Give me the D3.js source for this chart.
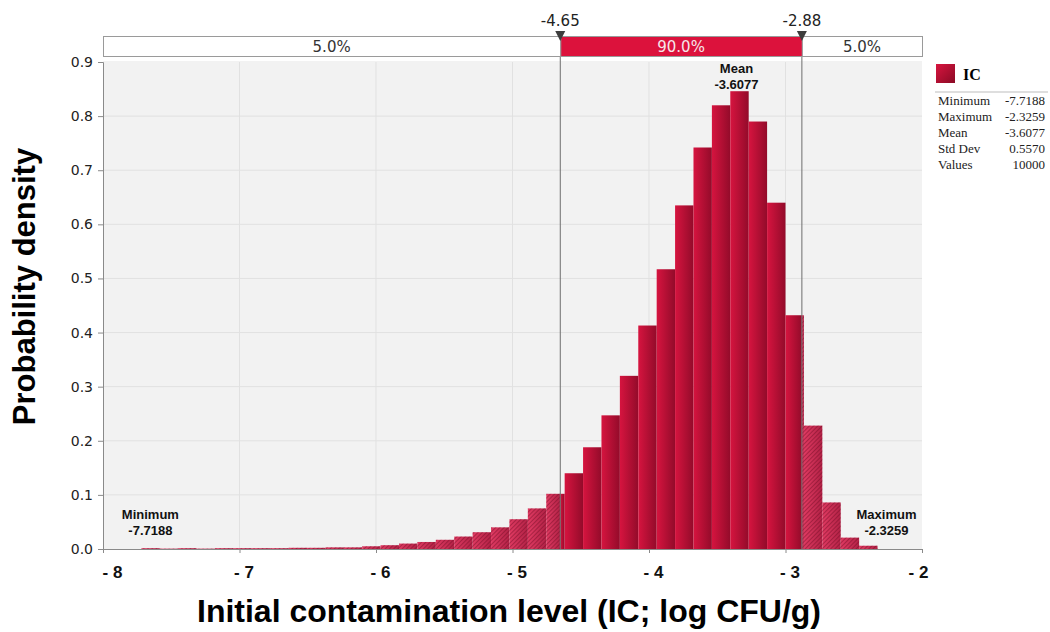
<!DOCTYPE html>
<html>
<head>
<meta charset="utf-8">
<script src="https://cdn.jsdelivr.net/npm/d3@7"></script>
<style>
  body { margin: 0; background: #fff; }
  svg { display: block; }
</style>
</head>
<body>
<svg id="chart" width="1050" height="632"></svg>
<script>
// histogram of IC (40 bins from min to max), density per bin
const icMin = -7.7188;
const icMax = -2.3259;
const icMean = -3.6077;
const density = [
  0.0015, 0.0007, 0.0015, 0.0007, 0.0015, 0.0015, 0.0015, 0.0015, 0.0022, 0.0022,
  0.003, 0.003, 0.005, 0.007, 0.010, 0.013, 0.017, 0.023, 0.031, 0.040,
  0.055, 0.075, 0.102, 0.140, 0.188, 0.247, 0.320, 0.413, 0.517, 0.635,
  0.742, 0.820, 0.846, 0.790, 0.640, 0.432, 0.228, 0.086, 0.021, 0.006
];
const cutoffs = [-4.65, -2.88];
const cutLabels = ["-4.65", "-2.88"];
const pctLabels = ["5.0%", "90.0%", "5.0%"];
const xTicks = [-8, -7, -6, -5, -4, -3, -2];
const yTicks = [0, 0.1, 0.2, 0.3, 0.4, 0.5, 0.6, 0.7, 0.8, 0.9];
const statNames = ["Minimum", "Maximum", "Mean", "Std Dev", "Values"];
const statValues = ["-7.7188", "-2.3259", "-3.6077", "0.5570", "10000"];

const svg = d3.select("#chart");

const x = d3.scaleLinear().domain([-8, -2]).range([103, 922]);
const y = d3.scaleLinear().domain([0, 0.9]).range([549, 62]);

//defs: gradients + hatch
const defs = svg.append("defs");
const gSolid = defs.append("linearGradient").attr("id", "solid")
    .attr("x1", "0%").attr("x2", "100%").attr("y1", "0%").attr("y2", "0%");
gSolid.append("stop").attr("offset", "0%").attr("stop-color", "#d6143f");
gSolid.append("stop").attr("offset", "100%").attr("stop-color", "#930b2a");

const gHatch = defs.append("linearGradient").attr("id", "hatchbg")
    .attr("x1", "0%").attr("x2", "100%").attr("y1", "0%").attr("y2", "0%");
gHatch.append("stop").attr("offset", "0%").attr("stop-color", "#e03a62");
gHatch.append("stop").attr("offset", "100%").attr("stop-color", "#b22246");

const pat = defs.append("pattern").attr("id", "hatch")
    .attr("patternUnits", "userSpaceOnUse")
    .attr("width", 3).attr("height", 3)
    .attr("patternTransform", "rotate(45)");
pat.append("line")
    .attr("x1", 0).attr("y1", 0).attr("x2", 0).attr("y2", 3)
    .attr("stroke", "#6e0a22").attr("stroke-width", 1.2).attr("stroke-opacity", 0.75);

const gLeg = defs.append("linearGradient").attr("id", "legsq")
    .attr("x1", "0%").attr("x2", "100%").attr("y1", "0%").attr("y2", "100%");
gLeg.append("stop").attr("offset", "0%").attr("stop-color", "#d8153f");
gLeg.append("stop").attr("offset", "100%").attr("stop-color", "#8a0a25");

// plot background + grid
svg.append("rect")
    .attr("x", x(-8)).attr("y", y(0.9) - 1)
    .attr("width", x(-2) - x(-8)).attr("height", y(0) - y(0.9) + 1)
    .attr("fill", "#f2f2f2");

svg.append("g").selectAll("line")
    .data(xTicks.slice(1, -1))
    .join("line")
    .attr("x1", d => x(d)).attr("x2", d => x(d))
    .attr("y1", y(0.9)).attr("y2", y(0))
    .attr("stroke", "#e1e1e1");

svg.append("g").selectAll("line")
    .data(yTicks.slice(1, -1))
    .join("line")
    .attr("x1", x(-8)).attr("x2", x(-2))
    .attr("y1", d => y(d)).attr("y2", d => y(d))
    .attr("stroke", "#e1e1e1");

// bars, split at the cutoffs
const binW = (icMax - icMin) / density.length;
const parts = [];
density.forEach(function(v, i) {
  const x0 = icMin + i * binW, x1 = x0 + binW;
  const edges = [x0].concat(cutoffs.filter(c => c > x0 && c < x1)).concat([x1]);
  for (let j = 0; j < edges.length - 1; j++) {
    const a = edges[j], b = edges[j + 1];
    const inside = a >= cutoffs[0] - 1e-9 && b <= cutoffs[1] + 1e-9;
    parts.push({x0: a, x1: b, v: v, inside: inside});
  }
});

const bars = svg.append("g").attr("class", "bars");
bars.selectAll("rect.bar")
    .data(parts)
    .join("rect")
    .attr("class", "bar")
    .attr("x", d => x(d.x0))
    .attr("width", d => x(d.x1) - x(d.x0))
    .attr("y", d => y(d.v))
    .attr("height", d => y(0) - y(d.v))
    .attr("fill", d => d.inside ? "url(#solid)" : "url(#hatchbg)");
bars.selectAll("rect.hatch")
    .data(parts.filter(d => !d.inside))
    .join("rect")
    .attr("class", "hatch")
    .attr("x", d => x(d.x0))
    .attr("width", d => x(d.x1) - x(d.x0))
    .attr("y", d => y(d.v))
    .attr("height", d => y(0) - y(d.v))
    .attr("fill", "url(#hatch)");

// cutoff lines
svg.append("g").selectAll("line")
    .data(cutoffs)
    .join("line")
    .attr("x1", d => x(d)).attr("x2", d => x(d))
    .attr("y1", 57).attr("y2", y(0))
    .attr("stroke", "#6e6e6e").attr("stroke-width", 1);

// axes
const yAxis = svg.append("g")
    .attr("transform", `translate(${x(-8)},0)`)
    .call(d3.axisLeft(y).tickValues(yTicks).tickFormat(d3.format(".1f")).tickSize(5).tickPadding(5));
yAxis.select(".domain").attr("stroke", "#8a8a8a");
yAxis.selectAll(".tick line").attr("stroke", "#8a8a8a");
yAxis.selectAll("text")
    .style("font-family", "'DejaVu Sans', Verdana, sans-serif")
    .style("font-size", "14px")
    .attr("fill", "#222");

const xAxis = svg.append("g")
    .attr("transform", `translate(0,${y(0)})`)
    .call(d3.axisBottom(x).tickValues(xTicks).tickFormat(d => "- " + Math.abs(d)).tickSize(4));
xAxis.select(".domain").attr("stroke", "#8a8a8a");
xAxis.selectAll(".tick line").attr("stroke", "#8a8a8a");
xAxis.selectAll("text")
    .attr("y", 29).attr("dy", 0)
    .attr("dx", d => d == -8 ? 9 : (d == -2 ? -4 : 4))
    .style("font-family", "'Liberation Sans', Arial, sans-serif")
    .style("font-size", "17px")
    .style("font-weight", "bold")
    .attr("fill", "#111");

// axis titles
svg.append("text")
    .attr("transform", `translate(35,${(y(0) + y(0.9)) / 2 - 19}) rotate(-90)`)
    .attr("text-anchor", "middle")
    .style("font-family", "'Liberation Sans', Arial, sans-serif")
    .style("font-size", "31px")
    .style("font-weight", "bold")
    .attr("fill", "#000")
    .text("Probability density");

svg.append("text")
    .attr("x", 509).attr("y", 622)
    .attr("text-anchor", "middle")
    .style("font-family", "'Liberation Sans', Arial, sans-serif")
    .style("font-size", "32px")
    .style("font-weight", "bold")
    .attr("fill", "#000")
    .text("Initial contamination level (IC; log CFU/g)");

// top percentage bar
const segs = [
  {a: -8, b: cutoffs[0], label: pctLabels[0], mid: false},
  {a: cutoffs[0], b: cutoffs[1], label: pctLabels[1], mid: true},
  {a: cutoffs[1], b: -2, label: pctLabels[2], mid: false}
];
const pctBar = svg.append("g");
pctBar.selectAll("rect")
    .data(segs)
    .join("rect")
    .attr("x", d => x(d.a) + 0.5)
    .attr("y", 36.5)
    .attr("width", d => x(d.b) - x(d.a))
    .attr("height", 20)
    .attr("fill", d => d.mid ? "#dc123c" : "#fff")
    .attr("stroke", "#9a9a9a");
pctBar.selectAll("text")
    .data(segs)
    .join("text")
    .attr("x", d => (x(d.a) + x(d.b)) / 2)
    .attr("y", 52)
    .attr("text-anchor", "middle")
    .style("font-family", "'DejaVu Sans', Verdana, sans-serif")
    .style("font-size", "15px")
    .attr("fill", d => d.mid ? "#f6e6ea" : "#333")
    .text(d => d.label);

// cutoff markers
const mk = svg.append("g").selectAll("g")
    .data(cutoffs)
    .join("g")
    .attr("transform", d => `translate(${x(d)},0)`);
mk.append("path")
    .attr("d", "M-5,31L5,31L0,41Z")
    .attr("fill", "#3d3d3d");
mk.append("text")
    .attr("y", 26)
    .attr("text-anchor", "middle")
    .style("font-family", "'DejaVu Sans', Verdana, sans-serif")
    .style("font-size", "15px")
    .attr("fill", "#222")
    .text((d, i) => cutLabels[i]);

// min / mean / max labels
const peak = d3.maxIndex(density);
const notes = [
  {name: "Minimum", val: icMin, cx: x(icMin) + 9, y0: 519},
  {name: "Mean", val: icMean, cx: x(icMin + (peak + 0.5) * binW) - 3, y0: 73},
  {name: "Maximum", val: icMax, cx: x(icMax) + 9, y0: 519}
];
const nt = svg.append("g").selectAll("text")
    .data(notes)
    .join("text")
    .attr("text-anchor", "middle")
    .style("font-family", "'Liberation Sans', Arial, sans-serif")
    .style("font-size", "13px")
    .style("font-weight", "bold")
    .attr("fill", "#111");
nt.append("tspan").attr("x", d => d.cx).attr("y", d => d.y0).text(d => d.name);
nt.append("tspan").attr("x", d => d.cx).attr("y", d => d.y0 + 16).text(d => d.val.toFixed(4));

// legend
const leg = svg.append("g");
leg.append("rect")
    .attr("x", 936).attr("y", 64).attr("width", 19).attr("height", 19)
    .attr("fill", "url(#legsq)");
leg.append("text")
    .attr("x", 963).attr("y", 80)
    .style("font-family", "'Liberation Serif', 'Times New Roman', serif")
    .style("font-size", "16px")
    .style("font-weight", "bold")
    .text("IC");
leg.append("line")
    .attr("x1", 935).attr("x2", 1048).attr("y1", 92).attr("y2", 92)
    .attr("stroke", "#bdbdbd");
leg.selectAll("text.sn")
    .data(statNames)
    .join("text")
    .attr("class", "sn")
    .attr("x", 938)
    .attr("y", (d, i) => 105 + i * 16)
    .style("font-family", "'Liberation Serif', 'Times New Roman', serif")
    .style("font-size", "13px")
    .attr("fill", "#222")
    .text(d => d);
leg.selectAll("text.sv")
    .data(statValues)
    .join("text")
    .attr("class", "sv")
    .attr("x", 1045)
    .attr("y", (d, i) => 105 + i * 16)
    .attr("text-anchor", "end")
    .style("font-family", "'Liberation Serif', 'Times New Roman', serif")
    .style("font-size", "13px")
    .attr("fill", "#222")
    .text(d => d);
</script>
</body>
</html>
